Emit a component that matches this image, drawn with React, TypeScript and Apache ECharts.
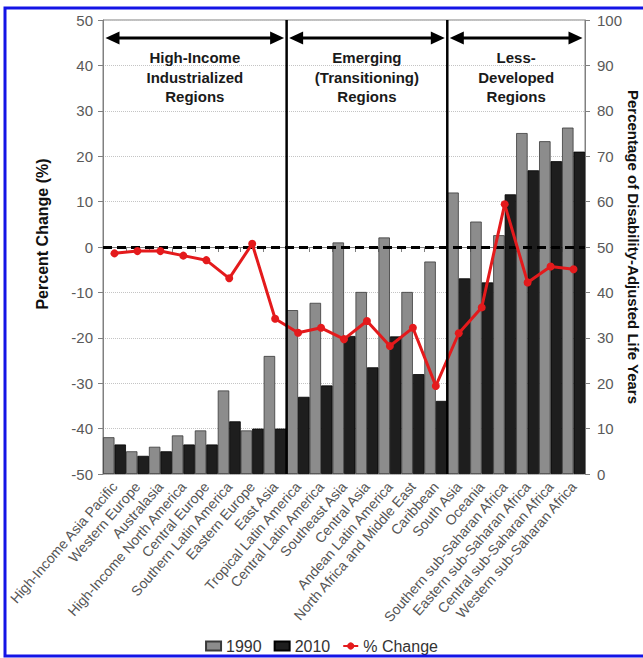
import React, { useEffect, useRef } from "react";
import * as echarts from "echarts";

const categories = [
  "High-Income Asia Pacific",
  "Western Europe",
  "Australasia",
  "High-Income North America",
  "Central Europe",
  "Southern Latin America",
  "Eastern Europe",
  "East Asia",
  "Tropical Latin America",
  "Central Latin America",
  "Southeast Asia",
  "Central Asia",
  "Andean Latin America",
  "North Africa and Middle East",
  "Caribbean",
  "South Asia",
  "Oceania",
  "Southern sub-Saharan Africa",
  "Eastern sub-Saharan Africa",
  "Central sub-Saharan Africa",
  "Western sub-Saharan Africa",
];

const dalys1990 = [8.1, 5, 6, 8.5, 9.6, 18.4, 9.6, 26, 36.1, 37.7, 51, 40.1, 52.1, 40.1, 46.8, 62, 55.6, 52.6, 75.1, 73.3, 76.3];
const dalys2010 = [6.5, 4, 5, 6.5, 6.5, 11.6, 10, 10, 17, 19.5, 30.4, 23.5, 30.3, 22, 16.1, 43.1, 42.2, 61.6, 66.9, 68.9, 71];
const pctChange = [-1.4, -0.9, -0.9, -1.9, -2.9, -6.9, 0.7, -15.8, -18.9, -17.8, -20.3, -16.3, -21.8, -17.8, -30.6, -19, -13.3, 9.4, -7.8, -4.3, -4.9];

const regionGroups = [
  { label: "High-Income\nIndustrialized\nRegions", start: 0, end: 8 },
  { label: "Emerging\n(Transitioning)\nRegions", start: 8, end: 15 },
  { label: "Less-\nDeveloped\nRegions", start: 15, end: 21 },
];

const FONT = "'Liberation Sans', Arial, Helvetica, sans-serif";

export default function App() {
  const ref = useRef<HTMLDivElement>(null);

  useEffect(() => {
    if (!ref.current) return;
    const chart = echarts.init(ref.current, null, { renderer: "svg" });
    const W = 643, H = 658;
    const gl = 103, gr = 58, gt = 20, gb = 184;
    const pw = W - gl - gr;
    const band = pw / categories.length;
    const plotBottom = H - gb;
    const arrowY = 38;

    const graphics: any[] = [];
    graphics.push({
      type: "rect",
      shape: { x: 5, y: 8, width: 700, height: 648 },
      style: { fill: "none", stroke: "#1414e6", lineWidth: 3 },
      z: 100,
    });
    regionGroups.forEach((g, idx) => {
      const x0 = gl + g.start * band;
      const x1 = gl + g.end * band;
      if (idx > 0) {
        graphics.push({
          type: "line",
          shape: { x1: x0, y1: gt, x2: x0, y2: plotBottom },
          style: { stroke: "#000", lineWidth: 2.5 },
          z: 50,
        });
      }
      const a0 = x0 + 2.5, a1 = x1 - 2.5;
      graphics.push({
        type: "line",
        shape: { x1: a0 + 8, y1: arrowY, x2: a1 - 8, y2: arrowY },
        style: { stroke: "#000", lineWidth: 3 },
        z: 50,
      });
      graphics.push({
        type: "polygon",
        shape: { points: [[a0, arrowY], [a0 + 14, arrowY - 6.5], [a0 + 14, arrowY + 6.5]] },
        style: { fill: "#000" },
        z: 50,
      });
      graphics.push({
        type: "polygon",
        shape: { points: [[a1, arrowY], [a1 - 14, arrowY - 6.5], [a1 - 14, arrowY + 6.5]] },
        style: { fill: "#000" },
        z: 50,
      });
      graphics.push({
        type: "text",
        x: (x0 + x1) / 2,
        y: 48,
        style: {
          text: g.label,
          textAlign: "center",
          textVerticalAlign: "top",
          fill: "#1a1a1a",
          fontSize: 15,
          fontWeight: "bold",
          fontFamily: FONT,
          lineHeight: 19.5,
        },
        z: 50,
      });
    });
    graphics.push({
      type: "text",
      x: 42,
      y: 234,
      rotation: Math.PI / 2,
      style: {
        text: "Percent Change (%)",
        textAlign: "center",
        textVerticalAlign: "middle",
        fill: "#111",
        fontSize: 16,
        fontWeight: "bold",
        fontFamily: FONT,
      },
    });
    graphics.push({
      type: "text",
      x: 633,
      y: 247,
      rotation: -Math.PI / 2,
      style: {
        text: "Percentage of Disability-Adjusted Life Years",
        textAlign: "center",
        textVerticalAlign: "middle",
        fill: "#111",
        fontSize: 15,
        fontWeight: "bold",
        fontFamily: FONT,
      },
    });

    chart.setOption({
      animation: false,
      textStyle: { fontFamily: FONT },
      grid: {
        left: gl,
        right: gr,
        top: gt,
        bottom: gb,
        show: true,
        borderColor: "#808080",
        borderWidth: 1,
        containLabel: false,
      },
      legend: {
        bottom: -1,
        left: "center",
        itemWidth: 15,
        itemHeight: 9,
        itemGap: 12,
        textStyle: { fontSize: 16, color: "#333", fontFamily: FONT },
        data: [
          { name: "1990", icon: "rect" },
          { name: "2010", icon: "rect" },
          { name: "% Change" },
        ],
      },
      xAxis: {
        type: "category",
        data: categories,
        boundaryGap: true,
        axisLine: { lineStyle: { color: "#808080", width: 1 } },
        axisTick: { show: true, length: 5, lineStyle: { color: "#808080" } },
        axisLabel: {
          interval: 0,
          rotate: 49,
          fontSize: 14,
          color: "#555",
          margin: 10,
          fontFamily: FONT,
        },
      },
      yAxis: [
        {
          type: "value",
          min: -50,
          max: 50,
          interval: 10,
          position: "left",
          axisLine: { show: true, lineStyle: { color: "#808080" } },
          axisTick: { show: true, length: 5, lineStyle: { color: "#808080" } },
          axisLabel: { fontSize: 15, color: "#595959", margin: 10, fontFamily: FONT },
          splitLine: { show: true, lineStyle: { color: "#c4c4c4", type: "dotted", width: 1 } },
        },
        {
          type: "value",
          min: 0,
          max: 100,
          interval: 10,
          position: "right",
          axisLine: { show: true, lineStyle: { color: "#808080" } },
          axisTick: { show: true, length: 5, lineStyle: { color: "#808080" } },
          axisLabel: { fontSize: 15, color: "#595959", margin: 12, fontFamily: FONT },
          splitLine: { show: false },
        },
      ],
      series: [
        {
          name: "1990",
          type: "bar",
          yAxisIndex: 1,
          data: dalys1990,
          barGap: "0%",
          barCategoryGap: "0%",
          itemStyle: { color: "#8c8c8c", borderColor: "#3a3a3a", borderWidth: 0.8 },
          z: 2,
        },
        {
          name: "2010",
          type: "bar",
          yAxisIndex: 1,
          data: dalys2010,
          barGap: "0%",
          barCategoryGap: "0%",
          itemStyle: { color: "#1e1e1e", borderColor: "#000", borderWidth: 0.8 },
          z: 2,
        },
        {
          name: "% Change",
          type: "line",
          yAxisIndex: 0,
          data: pctChange,
          symbol: "circle",
          symbolSize: 8,
          lineStyle: { color: "#e41a1c", width: 3 },
          itemStyle: { color: "#e41a1c" },
          z: 5,
          markLine: {
            silent: true,
            symbol: "none",
            label: { show: false },
            lineStyle: { color: "#000", type: [9, 5], width: 3 },
            data: [{ yAxis: 0 }],
            z: 4,
          },
        },
      ],
      graphic: graphics,
    });

    return () => chart.dispose();
  }, []);

  return (
    <div
      ref={ref}
      style={{ position: "fixed", left: 0, top: 0, width: 643, height: 658, background: "#fff" }}
    />
  );
}
